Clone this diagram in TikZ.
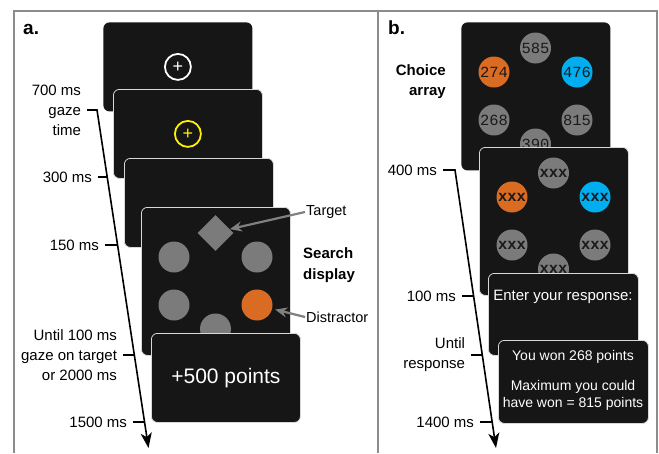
\documentclass[tikz,border=0pt]{standalone}
\usepackage{fontspec}
\setmainfont{Liberation Sans}
\setmonofont{Liberation Mono}
\usepackage{tikz}
\usetikzlibrary{shapes.geometric}
\usetikzlibrary{arrows.meta}
\definecolor{scrdark}{HTML}{161616}
\definecolor{scredge}{HTML}{D8D8D8}
\definecolor{itemgray}{HTML}{7B7B7B}
\definecolor{itemorange}{HTML}{D96B22}
\definecolor{itemblue}{HTML}{00AEEF}
\definecolor{fixyellow}{HTML}{FFF200}
\definecolor{framegray}{HTML}{8C8C8C}
\definecolor{ptrgray}{HTML}{808080}
\definecolor{numink}{HTML}{1A1A1A}
\tikzstyle{screen_box}=[rectangle, rounded corners=6pt, fill=scrdark, draw=scredge, line width=0.8pt, anchor=north west, inner sep=0pt, minimum width=149pt, minimum height=89pt]
\tikzstyle{screen_back}=[screen_box, draw=none]
\tikzstyle{screen_sq}=[minimum height=148pt]
\tikzstyle{stim}=[circle, fill=itemgray, minimum size=31pt, inner sep=0pt, text=numink, font=\ttfamily\fontsize{15.5}{16}\selectfont]
\tikzstyle{stim_x}=[stim, font=\ttfamily\bfseries\fontsize{15.5}{16}\selectfont]
\tikzstyle{fix_ring}=[circle, line width=1.8pt, minimum size=26pt, inner sep=0pt, font=\fontsize{18}{18}\selectfont]
\tikzstyle{time_label}=[anchor=east, align=right, inner sep=0pt, outer sep=6pt, font=\fontsize{15}{20}\selectfont]
\tikzstyle{timeline}=[line width=1.6pt, -{Stealth[length=15pt,width=11pt,inset=4pt]}]
\tikzstyle{tick}=[line width=1.6pt]
\tikzstyle{pointer}=[draw=ptrgray, line width=2.2pt, -{Stealth[length=12pt,width=10pt]}]
\tikzstyle{anno}=[anchor=west, inner sep=1pt, font=\fontsize{14.5}{19}\selectfont]
\tikzstyle{bold_label}=[inner sep=0pt, font=\bfseries\fontsize{15}{20.5}\selectfont]
\tikzstyle{screen_text}=[text=white, align=center, inner sep=0pt]
\begin{document}
\begin{tikzpicture}[x=1pt,y=-1pt]
\useasboundingbox (0,0) rectangle (659,453);
% frame
\draw[framegray, line width=1.2pt] (14,453) -- (14,11) -- (657,11) -- (657,453);
\draw[framegray, line width=1.2pt] (378,11) -- (378,453);
\node[anchor=base west, inner sep=0pt, font=\bfseries\fontsize{19}{19}\selectfont] (taga) at (23,34) {a.};
\node[anchor=base west, inner sep=0pt, font=\bfseries\fontsize{19}{19}\selectfont] (tagb) at (388,34) {b.};

% panel a: screens
\node[screen_back] (s1) at (103,22) {};
\node[fix_ring, draw=white, text=white] (fix1) at (s1.center) {+};
\node[screen_box] (s2) at (113,89) {};
\node[fix_ring, draw=fixyellow, text=fixyellow] (fix2) at (s2.center) {+};
\node[screen_box] (s3) at (124,158) {};
\node[screen_box, screen_sq] (s4) at (141,207) {};
\node[diamond, fill=itemgray, minimum size=36pt, inner sep=0pt] (target) at (215.5,233) {};
\node[stim] (srt) at (257,257) {};
\node[stim, fill=itemorange] (dist) at (257,305) {};
\node[stim] (sbt) at (215.5,329) {};
\node[stim] (slb) at (174,305) {};
\node[stim] (slt) at (174,257) {};
\node[screen_box] (s5) at (151,333) {};
\node[screen_text, font=\fontsize{21}{21}\selectfont] (pts) at (s5.center) {+500 points};

\node[anno] (lbltarget) at (305,212) {Target};
\node[anno] (lbldist) at (305,317) {Distractor};
\draw[pointer] (lbltarget.west) -- (target.15);
\draw[pointer, shorten >=3pt] (lbldist.west) -- (dist);
\node[bold_label, align=left, anchor=west] (searchlbl) at (303,265) {Search\\display};

% panel a: timeline
\coordinate (ta0) at (97,110);
\coordinate (ta1) at (107.2,177);
\coordinate (ta2) at (117.6,245);
\coordinate (ta3) at (134.3,355);
\coordinate (ta4) at (144.5,422);
\coordinate (taend) at (148.5,448);
\node[time_label] (la700) at (87,110) {700 ms\\gaze\\time};
\node[time_label] (la300) at (98,177) {300 ms};
\node[time_label] (la150) at (105,245) {150 ms};
\node[time_label] (launtil) at (123,355) {Until 100 ms\\gaze on target\\or 2000 ms};
\node[time_label] (la1500) at (133,422) {1500 ms};
\draw[timeline] (la700.east) -- (ta0) -- (taend);
\draw[tick] (la300.east) -- (ta1);
\draw[tick] (la150.east) -- (ta2);
\draw[tick] (launtil.east) -- (ta3);
\draw[tick] (la1500.east) -- (ta4);

% panel b: screens
\node[screen_back, screen_sq] (cA) at (461,22) {};
\node[stim] (c585) at (535.5,48) {585};
\node[stim, fill=itemblue] (c476) at (577,72) {476};
\node[stim] (c815) at (577,120) {815};
\node[stim] (c390) at (535.5,144) {390};
\node[stim] (c268) at (494,120) {268};
\node[stim, fill=itemorange] (c274) at (494,72) {274};
\node[screen_box, screen_sq] (cB) at (479,147) {};
\node[stim_x] (x1) at (553.5,173) {xxx};
\node[stim_x, fill=itemblue] (x2) at (595,197) {xxx};
\node[stim_x] (x3) at (595,245) {xxx};
\node[stim_x] (x4) at (553.5,269) {xxx};
\node[stim_x] (x5) at (512,245) {xxx};
\node[stim_x, fill=itemorange] (x6) at (512,197) {xxx};
\node[screen_box, minimum width=150pt, minimum height=82pt] (cC) at (488,273) {};
\node[screen_text, font=\fontsize{15}{15}\selectfont] (resp) at (563,297) {Enter your response:};
\node[screen_box, minimum width=150pt, minimum height=83pt] (cD) at (498,340) {};
\node[screen_text, font=\fontsize{14}{17.5}\selectfont] (won) at (573,357) {You won 268 points};
\node[screen_text, font=\fontsize{14}{17.5}\selectfont] (maxw) at (573,395.5) {Maximum you could\\have won = 815 points};
\node[bold_label, align=right, anchor=east] (choicelbl) at (446,81.5) {Choice\\array};

% panel b: timeline
\coordinate (tb0) at (455,170);
\coordinate (tb1) at (473.6,296);
\coordinate (tb2) at (482.4,355);
\coordinate (tb3) at (492.3,422);
\coordinate (tbend) at (496,448);
\node[time_label] (lb400) at (443,170) {400 ms};
\node[time_label] (lb100) at (462,296) {100 ms};
\node[time_label] (lbuntil) at (471,355) {Until\\response};
\node[time_label] (lb1400) at (480,422) {1400 ms};
\draw[timeline] (lb400.east) -- (tb0) -- (tbend);
\draw[tick] (lb100.east) -- (tb1);
\draw[tick] (lbuntil.east) -- (tb2);
\draw[tick] (lb1400.east) -- (tb3);
\end{tikzpicture}
\end{document}
